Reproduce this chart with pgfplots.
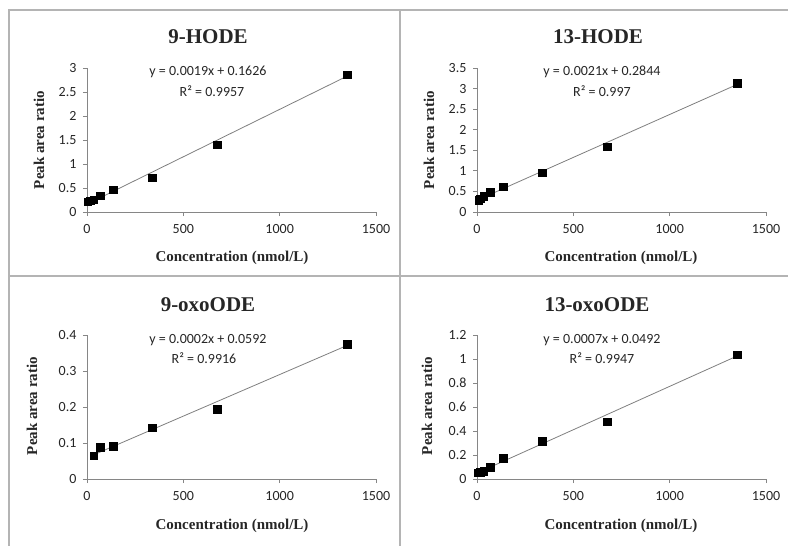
\documentclass[border=0pt]{standalone}
\usepackage{pgfplots}
\pgfplotsset{compat=1.18}
\usepackage{fontspec}
\setmainfont{Liberation Serif}
\newfontfamily\calfont{Carlito}
\definecolor{axgray}{HTML}{868686}
\definecolor{framegray}{HTML}{B4B4B4}
\definecolor{trend}{HTML}{7F7F7F}
\pgfplotsset{
  excel/.style={
    scale only axis, anchor=south west,
    width=289pt, height=144pt,
    xmin=0, xmax=1500, ymin=0,
    axis x line=bottom, axis y line=left,
    axis line style={axgray, line width=0.8pt, -},
    tick style={axgray, line width=0.8pt},
    tick align=outside, major tick length=4pt,
    xtick={0,500,1000,1500},
    clip=false,
    ticklabel style={font=\fontsize{14}{16}\calfont, text=black!85},
    xticklabel style={yshift=-5pt},
    yticklabel style={xshift=-3pt},
    /pgf/number format/assume math mode=true,
    /pgf/number format/1000 sep={},
    /pgf/number format/fixed,
  },
  pts/.style={only marks, mark=square*, mark size=3.7pt, black},
  tl/.style={no marks, trend, line width=0.8pt},
}
\begin{document}
\begin{tikzpicture}
\useasboundingbox (0,0) rectangle (788pt,-546pt);
% frame
\draw[framegray, line width=1.6pt] (9pt,-546pt) -- (9pt,-10pt) -- (788pt,-10pt);
\draw[framegray, line width=1.6pt] (400pt,-10pt) -- (400pt,-546pt);
\draw[framegray, line width=1.6pt] (9pt,-276pt) -- (788pt,-276pt);

% 9-HODE
\begin{axis}[excel, at={(87pt,-212pt)}, ymax=3, ytick={0,0.5,1,1.5,2,2.5,3}]
\addplot[tl] coordinates {(0,0.1626) (1350,2.83)};
\addplot[pts] coordinates {(4.2,0.21) (16.9,0.23) (33.75,0.26) (67.5,0.34) (135,0.46) (337.5,0.72) (675,1.40) (1350,2.86)};
\end{axis}

% 13-HODE
\begin{axis}[excel, at={(477pt,-212pt)}, ymax=3.5, ytick={0,0.5,1,1.5,2,2.5,3,3.5}]
\addplot[tl] coordinates {(0,0.2844) (1350,3.10)};
\addplot[pts] coordinates {(8.4,0.29) (16.9,0.32) (33.75,0.38) (67.5,0.48) (135,0.62) (337.5,0.96) (675,1.59) (1350,3.13)};
\end{axis}

% 9-oxoODE
\begin{axis}[excel, at={(87pt,-479pt)}, ymax=0.4, ytick={0,0.1,0.2,0.3,0.4}]
\addplot[tl] coordinates {(33.75,0.067) (1350,0.371)};
\addplot[pts] coordinates {(33.75,0.064) (67.5,0.088) (135,0.091) (337.5,0.143) (675,0.194) (1350,0.374)};
\end{axis}

% 13-oxoODE
\begin{axis}[excel, at={(477pt,-479pt)}, ymax=1.2, ytick={0,0.2,0.4,0.6,0.8,1,1.2}]
\addplot[tl] coordinates {(0,0.0492) (1350,1.025)};
\addplot[pts] coordinates {(4.2,0.055) (16.9,0.056) (33.75,0.064) (67.5,0.10) (135,0.172) (337.5,0.315) (675,0.48) (1350,1.034)};
\end{axis}

\tikzset{ttl/.style={font=\fontsize{21}{24}\selectfont\bfseries, text=black!85},
         lbl/.style={font=\fontsize{15}{18}\selectfont\bfseries, text=black!85},
         eq/.style={font=\fontsize{14}{16}\calfont, text=black!85}}
% titles
\node[ttl] at (208pt,-37pt) {9-HODE};
\node[ttl] at (598pt,-37pt) {13-HODE};
\node[ttl] at (208pt,-305pt) {9-oxoODE};
\node[ttl] at (597pt,-305pt) {13-oxoODE};
% x labels
\node[lbl] at (232pt,-258pt) {Concentration (nmol/L)};
\node[lbl] at (621pt,-258pt) {Concentration (nmol/L)};
\node[lbl] at (232pt,-526pt) {Concentration (nmol/L)};
\node[lbl] at (621pt,-526pt) {Concentration (nmol/L)};
% y labels
\node[lbl, rotate=90] at (39pt,-140pt) {Peak area ratio};
\node[lbl, rotate=90] at (429pt,-140pt) {Peak area ratio};
\node[lbl, rotate=90] at (32pt,-406pt) {Peak area ratio};
\node[lbl, rotate=90] at (427pt,-406pt) {Peak area ratio};
% equations
\node[eq] at (208pt,-72pt) {y = 0.0019x + 0.1626};
\node[eq] at (212pt,-91pt) {R² = 0.9957};
\node[eq] at (602pt,-72pt) {y = 0.0021x + 0.2844};
\node[eq] at (602pt,-91pt) {R² = 0.997};
\node[eq] at (208pt,-340pt) {y = 0.0002x + 0.0592};
\node[eq] at (204pt,-358pt) {R² = 0.9916};
\node[eq] at (602pt,-340pt) {y = 0.0007x + 0.0492};
\node[eq] at (602pt,-358pt) {R² = 0.9947};
\end{tikzpicture}
\end{document}
